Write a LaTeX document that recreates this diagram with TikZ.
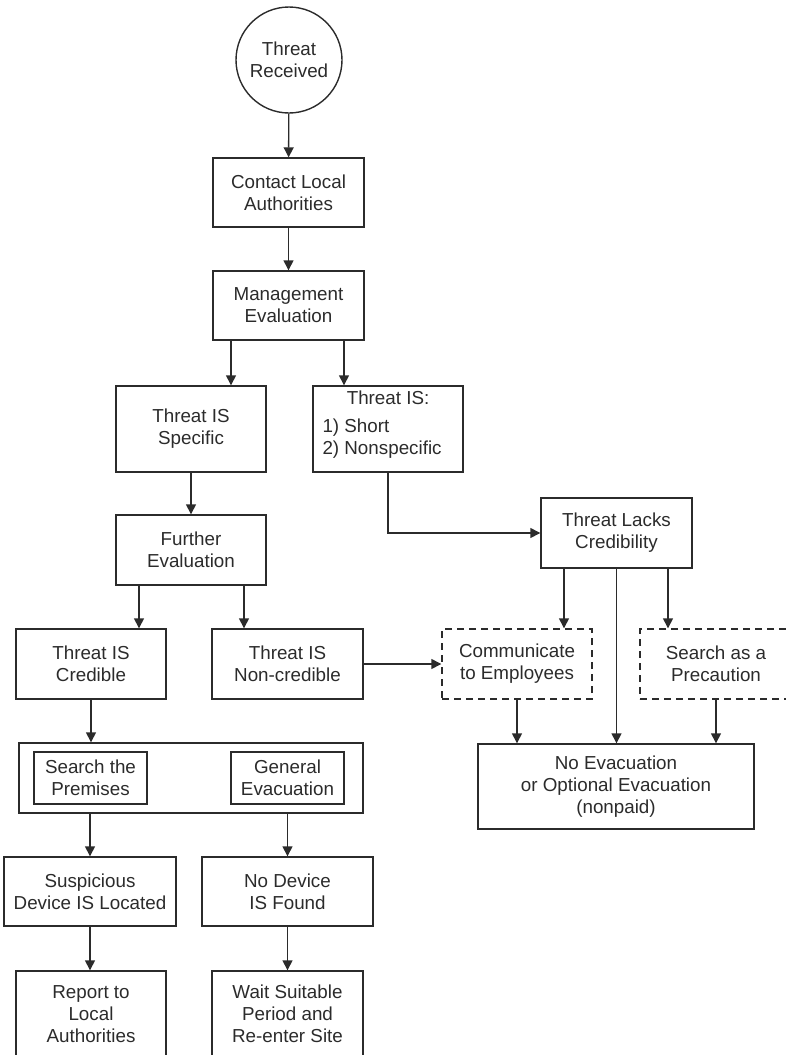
\documentclass[tikz,border=0pt]{standalone}
\usepackage{fontspec}
\setmainfont{Liberation Sans}
\usepackage{tikz}
\usetikzlibrary{shapes.geometric,arrows.meta,positioning,calc}
\definecolor{ink}{rgb}{0.17,0.17,0.17}
\tikzstyle{startstop} = [circle, minimum size = 106pt, inner sep = 0pt, align = center, draw = ink, text = ink, line width = 1.4pt]
\tikzstyle{process} = [rectangle, minimum width = 150pt, minimum height = 70pt, inner sep = 0pt, align = center, draw = ink, text = ink, line width = 1.4pt]
\tikzstyle{option} = [process, dash pattern = on 7pt off 5pt]
\tikzstyle{arrow} = [line width = 1.4pt, draw = ink, -{Triangle[length = 10pt, width = 10pt]}]

\begin{document}
\begin{tikzpicture}[x = 1pt, y = -1pt, every node/.style = {font = \fontsize{18.8pt}{22pt}\selectfont}]
    \useasboundingbox (0,0) rectangle (786,1055);

    \node (received) [startstop] at (289,60) {Threat\\Received};
    \node (contact) [process, minimum width = 151pt, minimum height = 69pt] at (288.5,192.5) {Contact Local\\Authorities};
    \node (mgmt-eval) [process, minimum width = 151pt, minimum height = 69pt] at (288.5,305.5) {Management\\Evaluation};
    \node (is-specific) [process, minimum height = 86pt] at (191,429) {Threat IS\\Specific};
    \node (short-nonspec) [process, minimum height = 86pt] at (388,429) {};
    \node (short-nonspec-text) [text = ink, inner sep = 0pt, anchor = north west] at ([xshift = 10pt, yshift = -4pt]short-nonspec.north west) {\begin{tabular}{@{}l@{}}\multicolumn{1}{@{\hspace{12pt}}c@{}}{Threat IS:}\\[6pt]1) Short\\2) Nonspecific\end{tabular}};
    \node (further-eval) [process] at (191,550) {Further\\Evaluation};
    \node (is-credible) [process] at (91,664) {Threat IS\\Credible};
    \node (is-noncred) [process, minimum width = 151pt] at (287.5,664) {Threat IS\\Non-credible};
    \node (lacks-cred) [process, minimum width = 151pt] at (616.5,533) {Threat Lacks\\Credibility};
    \node (communicate) [option] at (517,664) {Communicate\\to Employees};
    \node (precaution) [option, minimum width = 152pt] at (716,664) {Search as a\\Precaution};

    \node (search-evac) [process, minimum width = 344pt] at (191,778) {};
    \node (premises) [process, minimum width = 113pt, minimum height = 52pt] at (90.5,778) {Search the\\Premises};
    \node (gen-evac) [process, minimum width = 113pt, minimum height = 52pt] at (287.5,778) {General\\Evacuation};
    \node (suspicious) [process, minimum width = 172pt, minimum height = 69pt] at (90,891.5) {Suspicious\\Device IS Located};
    \node (no-device) [process, minimum width = 171pt, minimum height = 69pt] at (287.5,891.5) {No Device\\IS Found};
    \node (report) [process, minimum height = 86pt] at (91,1014) {Report to\\Local\\Authorities};
    \node (wait-reenter) [process, minimum width = 151pt, minimum height = 86pt] at (287.5,1014) {Wait Suitable\\Period and\\Re-enter Site};
    \node (no-evac) [process, minimum width = 276pt, minimum height = 85pt] at (616,786.5) {No Evacuation\\or Optional Evacuation\\(nonpaid)};

    \draw [arrow] (received) -- (contact);
    \draw [arrow] (contact) -- (mgmt-eval);
    \draw [arrow] ([xshift = -57.5pt]mgmt-eval.south) -- ([xshift = -57.5pt]mgmt-eval.south |- is-specific.north);
    \draw [arrow] ([xshift = 55.5pt]mgmt-eval.south) -- ([xshift = 55.5pt]mgmt-eval.south |- short-nonspec.north);
    \draw [arrow] (is-specific) -- (further-eval);
    \draw [arrow] ([xshift = -52pt]further-eval.south) -- ([xshift = -52pt]further-eval.south |- is-credible.north);
    \draw [arrow] ([xshift = 53pt]further-eval.south) -- ([xshift = 53pt]further-eval.south |- is-noncred.north);
    \draw [arrow] (short-nonspec.south) |- (lacks-cred.west);
    \draw [arrow] (is-noncred) -- (communicate);

    \draw [arrow] ([xshift = -52.5pt]lacks-cred.south) -- ([xshift = -52.5pt]lacks-cred.south |- communicate.north);
    \draw [arrow] (lacks-cred.south) -- (lacks-cred.south |- no-evac.north);
    \draw [arrow] ([xshift = 51.5pt]lacks-cred.south) -- ([xshift = 51.5pt]lacks-cred.south |- precaution.north);
    \draw [arrow] (communicate.south) -- (communicate.south |- no-evac.north);
    \draw [arrow] (precaution.south) -- (precaution.south |- no-evac.north);

    \draw [arrow] (is-credible.south) -- (is-credible.south |- search-evac.north);
    \draw [arrow] (suspicious.north |- search-evac.south) -- (suspicious.north);
    \draw [arrow] (no-device.north |- search-evac.south) -- (no-device.north);
    \draw [arrow] (suspicious.south) -- (suspicious.south |- report.north);
    \draw [arrow] (no-device) -- (wait-reenter);
\end{tikzpicture}
\end{document}
